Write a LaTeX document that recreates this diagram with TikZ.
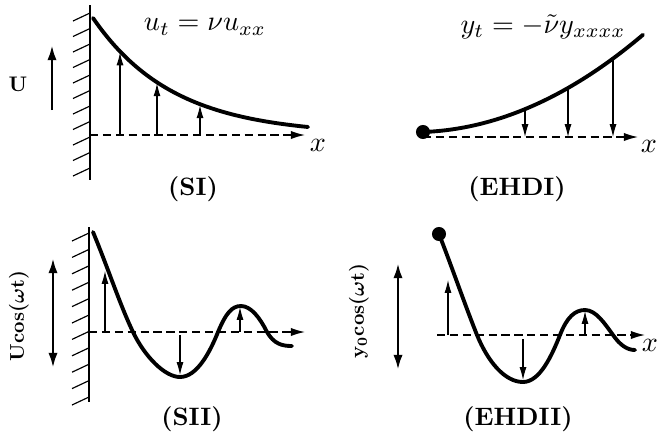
\documentclass[tikz,border=0pt]{standalone}
\usepackage{amsmath}
\usetikzlibrary{arrows.meta}
\begin{document}
\begin{tikzpicture}[x=0.03cm,y=-0.03cm,
  curve/.style={line width=3.3pt,line cap=round,line join=round},
  axis/.style={line width=1.1pt,dash pattern=on 7pt off 4pt,-{Latex[length=12pt,width=7pt]}},
  thin arrow/.style={line width=0.9pt,-{Latex[length=11pt,width=6pt]}},
  big arrow/.style={line width=2.4pt,-{Latex[length=13pt,width=8pt]}},
  big double/.style={line width=2.4pt,{Latex[length=13pt,width=8pt]}-{Latex[length=13pt,width=8pt]}},
  wall/.style={line width=2pt},
  hatch/.style={line width=1pt},
  eqn/.style={scale=2.4},
  xlab/.style={scale=2.4},
  panel/.style={font=\bfseries,scale=2.15},
  vlabel/.style={font=\bfseries,scale=1.7,rotate=90},
  dot/.style={circle,fill=black,inner sep=0pt,minimum size=12pt}]
\useasboundingbox (0,0) rectangle (657,437);

% ---------- (SI) ----------
\draw[wall] (90,5) -- (90,180);
\foreach \i in {0,...,10}{\draw[hatch] (90,{13+15.5*\i}) -- (73,{21+15.5*\i});}
\coordinate (a1s) at (90,135);
\coordinate (a1e) at (305,135);
\draw[axis] (a1s) -- (a1e);
\draw[curve] plot[domain=93:308,samples=60] (\x,{135-117*exp(-0.01247*(\x-93))});
\foreach \xx in {120,157,200}{
  \draw[thin arrow] (\xx,135) -- (\xx,{135-117*exp(-0.01247*(\xx-93))+1});}
\node[font=\bfseries,scale=1.8] (U) at (18,84) {U};
\coordinate (Ub) at (52,110);
\coordinate (Ut) at (52,45);
\draw[big arrow] (Ub) -- (Ut);
\node[eqn] (eq1) at (205,27) {$u_t = \nu u_{xx}$};
\node[xlab] (x1) at (318,145) {$x$};
\node[panel] (SI) at (193,189) {(SI)};

% ---------- (EHDI) ----------
\coordinate (a2s) at (423,137);
\coordinate (a2e) at (638,137);
\draw[axis] (a2s) -- (a2e);
\draw[curve] plot[domain=0:220,samples=60] ({423+\x},{132-0.0359*\x-0.001841*\x*\x});
\node[dot] (d1) at (423,132) {};
\foreach \t in {102,145,190}{
  \draw[thin arrow] ({423+\t},{132-0.0359*\t-0.001841*\t*\t}) -- ({423+\t},137);}
\node[eqn] (eq2) at (543,27) {$y_t = -\tilde{\nu} y_{xxxx}$};
\node[xlab] (x2) at (649,146) {$x$};
\node[panel] (EHDI) at (517,189) {(EHDI)};

% ---------- (SII) ----------
\draw[wall] (89,227) -- (89,402);
\foreach \i in {0,...,10}{\draw[hatch] (89,{233+16.4*\i}) -- (72,{241+16.4*\i});}
\coordinate (a3s) at (89,332);
\coordinate (a3e) at (305,332);
\draw[axis] (a3s) -- (a3e);
\draw[curve] (93,232) .. controls (108,268) and (120,305) .. (133,332)
  .. controls (145,357) and (165,377) .. (180,377)
  .. controls (197,377) and (210,352) .. (218,332)
  .. controls (226,313) and (232,306) .. (241,306)
  .. controls (251,306) and (260,318) .. (267,332)
  .. controls (274,344) and (282,346) .. (292,346);
\draw[thin arrow] (105,332) -- (105,271);
\draw[thin arrow] (180,335) -- (180,375);
\draw[thin arrow] (240,332) -- (240,307);
\coordinate (b3t) at (53,258);
\coordinate (b3b) at (53,368);
\draw[big double] (b3t) -- (b3b);
\node[vlabel] (L3) at (19,316) {Ucos(\(\boldsymbol{\omega}\)t)};
\node[panel] (SII) at (192,419) {(SII)};

% ---------- (EHDII) ----------
\coordinate (a4s) at (437,335);
\coordinate (a4e) at (645,335);
\draw[axis] (a4s) -- (a4e);
\draw[curve] (439,234) .. controls (453,270) and (465,305) .. (477,335)
  .. controls (488,362) and (505,382) .. (523,382)
  .. controls (540,382) and (552,355) .. (560,335)
  .. controls (567,317) and (575,310) .. (585,310)
  .. controls (596,310) and (605,324) .. (613,335)
  .. controls (620,345) and (627,350) .. (635,350);
\node[dot] (d2) at (439,234) {};
\draw[thin arrow] (448,335) -- (448,280);
\draw[thin arrow] (523,339) -- (523,380);
\draw[thin arrow] (585,335) -- (585,311);
\coordinate (b4t) at (398,263);
\coordinate (b4b) at (398,370);
\draw[big double] (b4t) -- (b4b);
\node[vlabel] (L4) at (359,311) {\(\mathbf{y}_{\mathbf{0}}\)cos(\(\boldsymbol{\omega}\)t)};
\node[xlab] (x4) at (650,345) {$x$};
\node[panel] (EHDII) at (518,419) {(EHDII)};
\end{tikzpicture}
\end{document}
